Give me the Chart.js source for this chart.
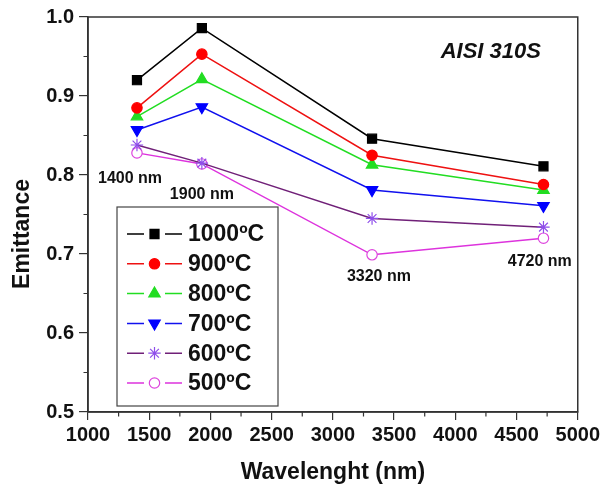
<!DOCTYPE html>
<html>
<head>
<meta charset="utf-8">
<script src="https://cdn.jsdelivr.net/npm/chart.js@4/dist/chart.umd.min.js"></script>
<style>
  html, body { margin: 0; padding: 0; background: #fff; }
  #wrap { width: 603px; height: 491px; position: relative; }
</style>
</head>
<body>
<div id="wrap"><canvas id="c" width="603" height="491"></canvas></div>
<script>
// ---- Data ----
const wavelengths = [1400, 1930, 3320, 4720];
const seriesNames = ['1000ºC', '900ºC', '800ºC', '700ºC', '600ºC', '500ºC'];
const em1000 = [0.920, 0.986, 0.846, 0.811];
const em900  = [0.885, 0.953, 0.825, 0.788];
const em800  = [0.874, 0.921, 0.813, 0.781];
const em700  = [0.857, 0.886, 0.781, 0.761];
const em600  = [0.838, 0.815, 0.745, 0.734];
const em500  = [0.828, 0.814, 0.699, 0.720];
const xTicks = [1000, 1500, 2000, 2500, 3000, 3500, 4000, 4500, 5000];
const yTicks = [0.5, 0.6, 0.7, 0.8, 0.9, 1.0];
const annotationTexts = ['1400 nm', '1900 nm', '3320 nm', '4720 nm'];

// ---- Styles ----
const FONT = '"Liberation Sans", Arial, sans-serif';
const styles = [
  { line: '#000000', border: '#000000', fill: '#000000', style: 'rect', r: 6.4, rot: 0 },
  { line: '#ee1111', border: '#ff0000', fill: '#ff0000', style: 'circle', r: 5.2, rot: 0 },
  { line: '#22dd22', border: '#22dd22', fill: '#22dd22', style: 'triangle', r: 6.6, rot: 0 },
  { line: '#1111ee', border: '#0000ff', fill: '#0000ff', style: 'triangle', r: 6.6, rot: 180 },
  { line: '#702078', border: '#8f4fea', fill: '#8f4fea', style: 'star', r: 6.2, rot: 0 },
  { line: '#dd33dd', border: '#dd44dd', fill: '#ffffff', style: 'circle', r: 5.2, rot: 0 }
];
const seriesValues = [em1000, em900, em800, em700, em600, em500];

const datasets = seriesValues.map((vals, i) => ({
  label: seriesNames[i],
  data: wavelengths.map((w, k) => ({ x: w, y: vals[k] })),
  borderColor: styles[i].line,
  borderWidth: 1.5,
  pointStyle: styles[i].style,
  pointRadius: styles[i].r,
  pointHoverRadius: styles[i].r,
  pointRotation: styles[i].rot,
  pointBackgroundColor: styles[i].fill,
  pointBorderColor: styles[i].border,
  pointBorderWidth: 1.2,
  tension: 0,
  order: i
}));

const annotationPos = [
  { x: 1343, y: 0.796 },
  { x: 1930, y: 0.775 },
  { x: 3376, y: 0.6715 },
  { x: 4690, y: 0.6905 }
];

const decorPlugin = {
  id: 'decor',
  afterDraw(chart) {
    const ctx = chart.ctx;
    const ca = chart.chartArea;
    const xs = chart.scales.x, ys = chart.scales.y;
    ctx.save();
    // frame
    ctx.strokeStyle = '#333';
    ctx.lineWidth = 1.5;
    ctx.strokeRect(ca.left, ca.top, ca.right - ca.left, ca.bottom - ca.top);
    // minor ticks
    ctx.lineWidth = 1.2;
    ctx.beginPath();
    for (let k = 0; k < xTicks.length - 1; k++) {
      const px = xs.getPixelForValue((xTicks[k] + xTicks[k + 1]) / 2);
      ctx.moveTo(px, ca.bottom);
      ctx.lineTo(px, ca.bottom + 4.5);
    }
    for (let k = 0; k < yTicks.length - 1; k++) {
      const py = ys.getPixelForValue((yTicks[k] + yTicks[k + 1]) / 2);
      ctx.moveTo(ca.left, py);
      ctx.lineTo(ca.left - 4.5, py);
    }
    ctx.stroke();

    // y title
    ctx.fillStyle = '#111';
    ctx.font = 'bold 23px ' + FONT;
    ctx.textAlign = 'center';
    ctx.textBaseline = 'middle';
    ctx.save();
    ctx.translate(23, 234);
    ctx.rotate(-Math.PI / 2);
    ctx.fillText('Emittance', 0, 0);
    ctx.restore();

    // annotations
    ctx.font = 'bold 16px ' + FONT;
    annotationTexts.forEach((t, i) => {
      ctx.fillText(t, xs.getPixelForValue(annotationPos[i].x), ys.getPixelForValue(annotationPos[i].y));
    });
    ctx.font = 'italic bold 22px ' + FONT;
    ctx.fillText('AISI 310S', xs.getPixelForValue(4290), ys.getPixelForValue(0.956));

    // legend
    const bx = 117, by = 207, bw = 161, bh = 199;
    ctx.fillStyle = '#fff';
    ctx.fillRect(bx, by, bw, bh);
    ctx.strokeStyle = '#444';
    ctx.lineWidth = 1.2;
    ctx.strokeRect(bx, by, bw, bh);
    ctx.font = 'bold 23px ' + FONT;
    ctx.textAlign = 'left';
    seriesNames.forEach((name, i) => {
      const cy = 234 + i * 29.8;
      const st = styles[i];
      ctx.strokeStyle = st.line;
      ctx.lineWidth = 1.5;
      ctx.beginPath();
      ctx.moveTo(127, cy); ctx.lineTo(144, cy);
      ctx.moveTo(165, cy); ctx.lineTo(182, cy);
      ctx.stroke();
      ctx.fillStyle = st.fill;
      ctx.strokeStyle = st.border;
      ctx.lineWidth = 1.2;
      Chart.helpers.drawPoint(ctx, { pointStyle: st.style, radius: st.r, rotation: st.rot, borderWidth: 1.2 }, 154.5, cy);
      ctx.fillStyle = '#111';
      ctx.fillText(name, 188, cy + 1);
    });
    ctx.restore();
  }
};

new Chart(document.getElementById('c'), {
  type: 'line',
  data: { datasets },
  options: {
    responsive: false,
    animation: false,
    layout: { padding: { top: 15, right: 25, left: 0, bottom: 0 } },
    plugins: { legend: { display: false }, tooltip: { enabled: false } },
    scales: {
      x: {
        type: 'linear',
        min: xTicks[0], max: xTicks[xTicks.length - 1],
        afterBuildTicks: s => { s.ticks = xTicks.map(v => ({ value: v })); },
        afterFit: s => { s.height = 79; },
        ticks: { color: '#111', font: { family: FONT, size: 20, weight: 'bold' }, padding: 3, maxRotation: 0, autoSkip: false, callback: v => String(v) },
        grid: { drawOnChartArea: false, drawTicks: true, tickLength: 8, color: '#333', lineWidth: 1.2 },
        border: { display: true, color: '#333', width: 1.5 },
        title: { display: true, text: 'Wavelenght (nm)', color: '#111', font: { family: FONT, size: 23, weight: 'bold' }, padding: { top: 0, bottom: 5 } }
      },
      y: {
        type: 'linear',
        min: yTicks[0], max: yTicks[yTicks.length - 1],
        afterBuildTicks: s => { s.ticks = yTicks.map(v => ({ value: v })); },
        afterFit: s => { s.width = 88; },
        ticks: { color: '#111', font: { family: FONT, size: 20, weight: 'bold' }, padding: 5, callback: v => Number(v).toFixed(1) },
        grid: { drawOnChartArea: false, drawTicks: true, tickLength: 9, color: '#333', lineWidth: 1.2 },
        border: { display: true, color: '#333', width: 1.5 }
      }
    }
  },
  plugins: [decorPlugin]
});
</script>
</body>
</html>
